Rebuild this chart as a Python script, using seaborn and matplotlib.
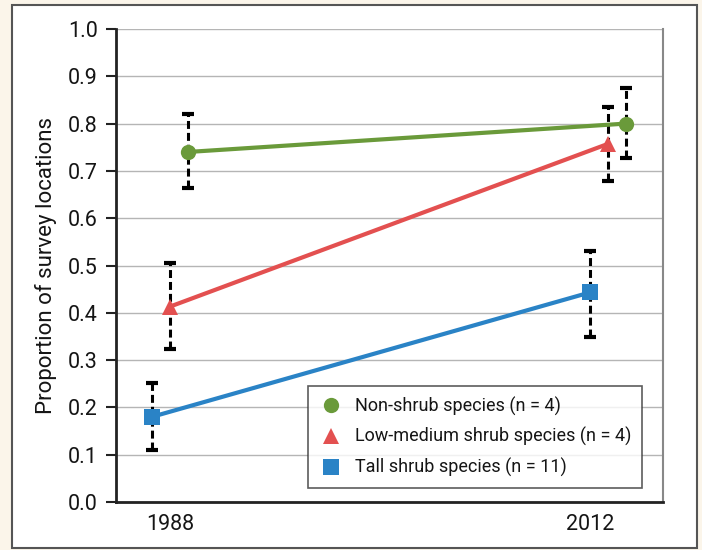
import matplotlib
matplotlib.use("Agg")
import matplotlib.pyplot as plt
import matplotlib.patches as mpatches
import seaborn as sns
import pandas as pd
import numpy as np

years = ["1988", "2012"]
series = ["Non-shrub species (n = 4)", "Low-medium shrub species (n = 4)", "Tall shrub species (n = 11)"]
nonshrub = [0.74, 0.80]
nonshrub_lo = [0.663, 0.727]
nonshrub_hi = [0.821, 0.875]
lowmed = [0.413, 0.757]
lowmed_lo = [0.323, 0.679]
lowmed_hi = [0.505, 0.836]
tall = [0.180, 0.443]
tall_lo = [0.110, 0.349]
tall_hi = [0.251, 0.531]

colors = ["#6a9a3a", "#e35050", "#2a83c6"]
markers = ["o", "^", "s"]
offsets = [0.041, 0.0, -0.041]

sns.set_theme(style="white")
plt.rcParams["font.family"] = ["Roboto", "DejaVu Sans"]
plt.rcParams["text.color"] = "#151515"
plt.rcParams["axes.labelcolor"] = "#151515"
plt.rcParams["xtick.color"] = "#151515"
plt.rcParams["ytick.color"] = "#151515"

fig = plt.figure(figsize=(7.02, 5.5), dpi=100)
fig.patch.set_facecolor("#fbf5ea")
frame = mpatches.Rectangle((12/702, 2/550), 685/702, 543/550, transform=fig.transFigure,
                           facecolor="white", edgecolor="#555555", linewidth=1.5, zorder=-10)
fig.patches.append(frame)

ax = fig.add_axes([116/702, 48/550, 547/702, 473/550])
ax.set_zorder(5)
ax.set_facecolor("white")

vals = [nonshrub, lowmed, tall]
los = [nonshrub_lo, lowmed_lo, tall_lo]
his = [nonshrub_hi, lowmed_hi, tall_hi]
rows = []
for s, v, lo, hi, off in zip(series, vals, los, his, offsets):
    for i, y in enumerate(years):
        rows.append({"series": s, "x": i + off, "value": v[i], "lo": lo[i], "hi": hi[i]})
df = pd.DataFrame(rows)

# error bars
for s in series:
    d = df[df["series"] == s]
    ax.vlines(d["x"], d["lo"], d["hi"], colors="black", linestyles=(0, (2.6, 1.3)),
              linewidth=2.2, zorder=2)
    ax.plot(d["x"], d["lo"], linestyle="none", marker="_", markersize=8, mew=3, color="black", zorder=2)
    ax.plot(d["x"], d["hi"], linestyle="none", marker="_", markersize=8, mew=3, color="black", zorder=2)

sns.lineplot(data=df, x="x", y="value", hue="series", style="series", hue_order=series,
             style_order=series, palette=colors, markers=markers, dashes=False,
             linewidth=3, markersize=11, markeredgewidth=0, ax=ax, zorder=3, legend=False)

ax.set_xlim(-0.123, 1.126)
ax.set_ylim(0, 1.0)
ax.set_yticks(np.arange(0, 1.01, 0.1))
ax.set_yticklabels([f"{t:.1f}" for t in np.arange(0, 1.01, 0.1)], fontsize=15.5)
ax.set_xticks([0.0, 0.96])
ax.set_xticklabels(years, fontsize=15.5)
ax.set_xlabel("")
ax.set_ylabel("Proportion of survey locations", fontsize=16, labelpad=8)
ax.grid(axis="y", color="#b5b5b5", linewidth=1)
ax.set_axisbelow(True)
ax.tick_params(axis="y", direction="out", length=7, width=1.5, color="#222222", pad=6, left=True)
ax.tick_params(axis="x", length=0, pad=9)
for side in ["left", "bottom"]:
    ax.spines[side].set_color("#222222")
    ax.spines[side].set_linewidth(2)
for side in ["top", "right"]:
    ax.spines[side].set_color("#888888")
    ax.spines[side].set_linewidth(1.5)
ax.spines["top"].set_visible(False)

handles = [plt.Line2D([], [], linestyle="none", marker=m, color=c, markersize=11, markeredgewidth=0)
           for m, c in zip(markers, colors)]
leg = ax.legend(handles, series, loc="lower left", bbox_to_anchor=(192/547, 14/473),
                fontsize=13, frameon=True, fancybox=False, edgecolor="#333333",
                handletextpad=0.7, borderpad=0.6, labelspacing=0.64, handlelength=1.3,
                borderaxespad=0)
leg.get_frame().set_linewidth(1.2)

fig.savefig("out.png", dpi=100, facecolor=fig.get_facecolor())
